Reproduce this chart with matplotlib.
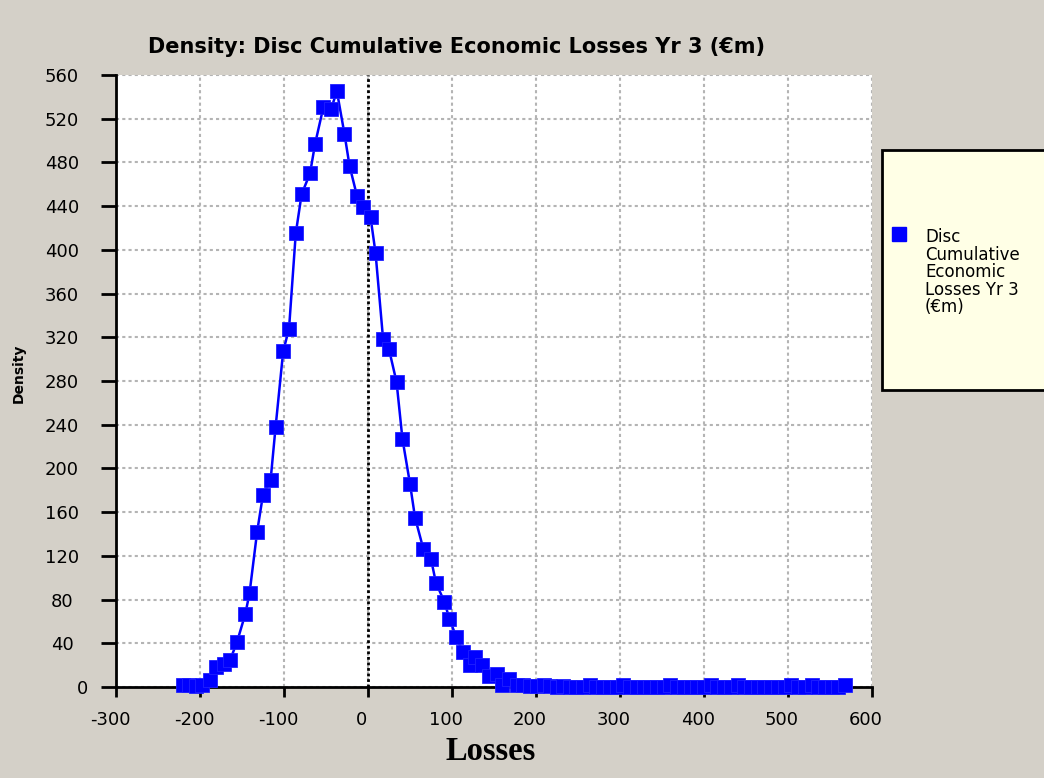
import matplotlib
matplotlib.use("Agg")
import matplotlib.pyplot as plt
from matplotlib.patches import Rectangle
from matplotlib.lines import Line2D
from matplotlib.transforms import ScaledTranslation

# density points
losses = [-220, -213, -205, -198, -188, -181, -172, -164, -156, -146,
          -141, -132, -125, -116, -110, -101, -94, -86, -79, -69,
          -63, -53, -44, -37, -28, -22, -13, -6, 3, 9,
          18, 25, 34, 41, 50, 56, 66, 75, 81, 91,
          97, 105, 113, 121, 127, 136, 144, 153, 159, 168,
          177, 185, 193,
          201, 209, 217, 225, 232, 240, 248, 256, 264, 272,
          280, 288, 296, 304, 312, 320, 328, 336, 344, 352,
          360, 368, 376, 384, 392, 400, 408, 416, 424, 432,
          440, 448, 456, 464, 472, 480, 488, 496, 504, 512,
          520, 528, 536, 544, 552, 560, 568]
density = [2, 2, 1, 2, 6, 18, 21, 25, 41, 67,
           86, 142, 176, 189, 238, 307, 328, 415, 451, 470,
           497, 531, 529, 545, 506, 477, 449, 439, 430, 397,
           318, 309, 279, 227, 186, 155, 126, 117, 95, 78,
           62, 46, 32, 20, 27, 20, 10, 12, 2, 7,
           2, 2, 1,
           0.5, 1.5, 0.5, 0.3, 1, 0.3, 0.3, 0.3, 1.5, 0.3,
           0.3, 0.3, 0.3, 1.5, 0.3, 0.3, 0.3, 0.3, 0.3, 0.3,
           1.5, 0.3, 0.3, 0.3, 0.3, 0.3, 1.5, 0.3, 0.3, 0.3,
           1.5, 0.3, 0.3, 0.3, 0.3, 0.3, 0.3, 0.3, 1.5, 0.3,
           0.3, 1.5, 0.3, 0.3, 0.3, 0.3, 1.5]

series_name = "Disc Cumulative Economic Losses Yr 3 (€m)"
legend_label = "Disc\nCumulative\nEconomic\nLosses Yr 3\n(€m)"
x_ticks = [-300, -200, -100, 0, 100, 200, 300, 400, 500, 600]
y_ticks = [0, 40, 80, 120, 160, 200, 240, 280, 320, 360, 400, 440, 480, 520, 560]

plt.rcParams['font.family'] = ['DejaVu Sans']
plt.rcParams['axes.unicode_minus'] = False

W, H = 1044, 778
fig = plt.figure(figsize=(W/100, H/100), dpi=100, facecolor="#d4d0c8")
ax = fig.add_axes([116/W, 1-687/H, 756/W, 612/H])
ax.set_facecolor("white")

ax.plot(losses, density, color="#0000ff", lw=1.8, marker="s", markersize=9.5,
        markeredgecolor="#2020ff", markeredgewidth=0.6, zorder=3, clip_on=False)
ax.axvline(0, color="black", lw=2, ls=(0, (1, 1)), zorder=2)

ax.set_xlim(-300, 600)
ax.set_ylim(0, 560)
ax.set_xticks(x_ticks)
ax.set_yticks(y_ticks)
ax.grid(True, color="#b4b4b4", lw=1.5, ls=(0, (1.5, 1.5)))
ax.tick_params(axis="x", direction="out", length=7.2, width=2, labelbottom=False)
ax.tick_params(axis="y", direction="out", length=10.8, width=2, labelleft=False)
for s in ["top", "right"]:
    ax.spines[s].set_visible(False)
for s in ["left", "bottom"]:
    ax.spines[s].set_linewidth(2)

# tick labels placed like the original: x labels a bit left of the tick,
# y labels centred in a column, the 0 label sitting further right
shift_left = ScaledTranslation(-6/100, 0, fig.dpi_scale_trans)
for v in x_ticks:
    ax.text(v, -31/612, str(v), transform=ax.get_xaxis_transform() + shift_left,
            ha="center", va="center_baseline", fontsize=13)
for v in y_ticks:
    xpos = -34/756 if v == 0 else -54/756
    ax.text(xpos, v, str(v), transform=ax.get_yaxis_transform(),
            ha="center", va="center_baseline", fontsize=13)

fig.text(457/W, 1-47/H, "Density: " + series_name, ha="center", va="center",
         fontsize=15, fontweight="bold")
fig.text(19/W, 1-373/H, "Density", rotation=90, ha="center", va="center",
         fontsize=10, fontweight="bold")
fig.text(491/W, 1-752/H, "Losses", ha="center", va="center",
         fontsize=23.5, fontweight="bold", family="Liberation Serif")

# legend box
fig.patches.append(Rectangle((882/W, 1-390/H), 200/W, 240/H,
                             transform=fig.transFigure, facecolor="#ffffe6",
                             edgecolor="black", lw=2))
fig.add_artist(Line2D([898.5/W], [1-234/H], transform=fig.transFigure,
                      color="#0000ff", marker="s", ls="none", markersize=9.4))
fig.text(925/W, 1-228/H, legend_label, ha="left", va="top", fontsize=12,
         linespacing=0.97)

fig.savefig("out.png", dpi=100, facecolor=fig.get_facecolor())
